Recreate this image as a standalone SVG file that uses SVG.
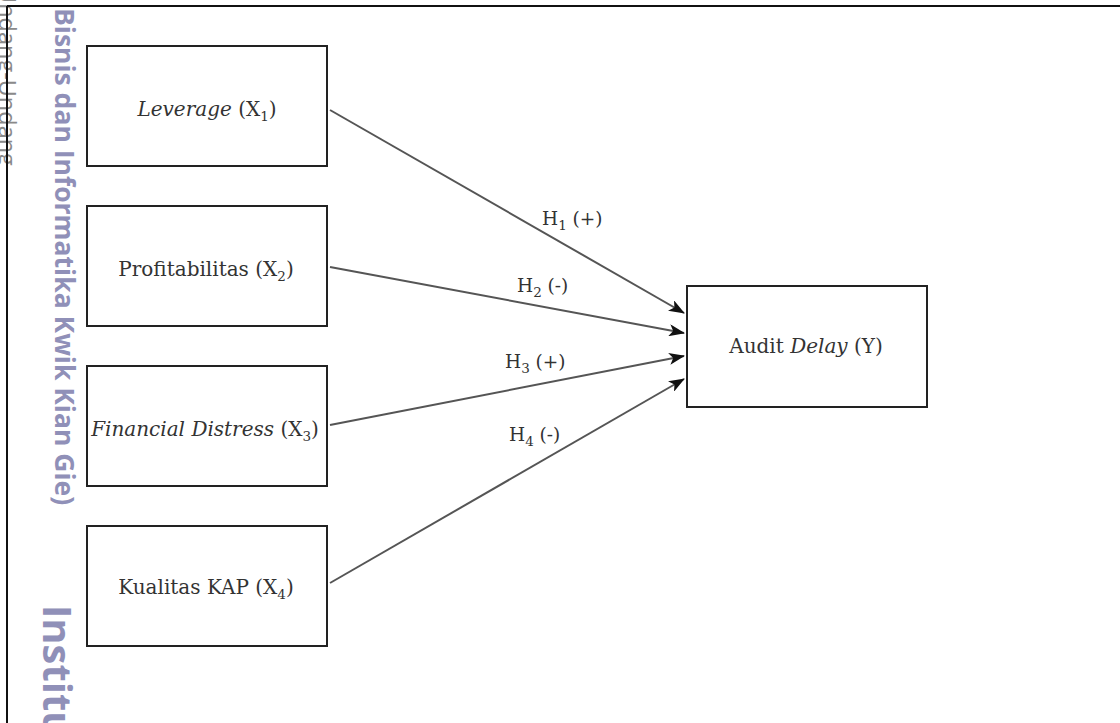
<svg xmlns="http://www.w3.org/2000/svg" width="1120" height="723" viewBox="0 0 1120 723">
<style>
.box{fill:#fff;stroke:#222;stroke-width:2}
.t{font-family:"DejaVu Serif","Liberation Serif",serif;font-size:20px;fill:#333}
.i{font-style:italic}
.sub{font-size:13.5px}
.lbl{font-family:"DejaVu Serif","Liberation Serif",serif;font-size:18.5px;fill:#333}
.conn{stroke:#555;stroke-width:2;fill:none;marker-end:url(#ah)}
.wm{font-family:"Open Sans","DejaVu Sans",sans-serif;font-weight:bold;fill:#9090b8}
</style>
<defs>
<marker id="ah" markerWidth="16" markerHeight="12" refX="15" refY="6" orient="auto" markerUnits="userSpaceOnUse">
<path d="M0,0 L16,6 L0,12 L4,6 Z" fill="#111"/>
</marker>
</defs>
<rect width="1120" height="723" fill="#fff"/>
<g id="watermark">
<text class="wm" font-size="26.5" transform="translate(55,8) rotate(90)">Bisnis dan Informatika Kwik Kian Gie)</text>
<text class="wm" font-size="40" transform="translate(43,605) rotate(90)">Institu</text>
<text font-family="'Open Sans','DejaVu Sans',sans-serif" font-size="23.5" fill="#8a8a8a" transform="translate(-1,-14) rotate(90)">Undang-Undang</text>
</g>
<g id="frame">
<line x1="7" y1="6" x2="1120" y2="6" stroke="#111" stroke-width="2"/>
<line x1="7" y1="6" x2="7" y2="723" stroke="#111" stroke-width="2"/>
</g>
<g id="connectors">
<line class="conn" x1="330" y1="110" x2="684" y2="313"/>
<line class="conn" x1="330" y1="267" x2="684" y2="333"/>
<line class="conn" x1="330" y1="425" x2="684" y2="356"/>
<line class="conn" x1="330" y1="583" x2="684" y2="379"/>
<text class="lbl" x="542" y="225">H<tspan class="sub" dy="5">1</tspan><tspan dy="-5"> (+)</tspan></text>
<text class="lbl" x="517" y="292">H<tspan class="sub" dy="5">2</tspan><tspan dy="-5"> (-)</tspan></text>
<text class="lbl" x="505" y="368">H<tspan class="sub" dy="5">3</tspan><tspan dy="-5"> (+)</tspan></text>
<text class="lbl" x="509" y="441">H<tspan class="sub" dy="5">4</tspan><tspan dy="-5"> (-)</tspan></text>
</g>
<g id="x1">
<rect class="box" x="87" y="46" width="240" height="120"/>
<text class="t" x="207" y="116" text-anchor="middle"><tspan class="i">Leverage</tspan> (X<tspan class="sub" dy="5">1</tspan><tspan dy="-5">)</tspan></text>
</g>
<g id="x2">
<rect class="box" x="87" y="206" width="240" height="120"/>
<text class="t" x="206" y="276" text-anchor="middle">Profitabilitas (X<tspan class="sub" dy="5">2</tspan><tspan dy="-5">)</tspan></text>
</g>
<g id="x3">
<rect class="box" x="87" y="366" width="240" height="120"/>
<text class="t" x="205" y="436" text-anchor="middle"><tspan class="i">Financial Distress</tspan> (X<tspan class="sub" dy="5">3</tspan><tspan dy="-5">)</tspan></text>
</g>
<g id="x4">
<rect class="box" x="87" y="526" width="240" height="120"/>
<text class="t" x="206" y="594" text-anchor="middle">Kualitas KAP (X<tspan class="sub" dy="5">4</tspan><tspan dy="-5">)</tspan></text>
</g>
<g id="y">
<rect class="box" x="687" y="286" width="240" height="121"/>
<text class="t" x="806" y="353" text-anchor="middle">Audit <tspan class="i">Delay</tspan> (Y)</text>
</g>
</svg>
